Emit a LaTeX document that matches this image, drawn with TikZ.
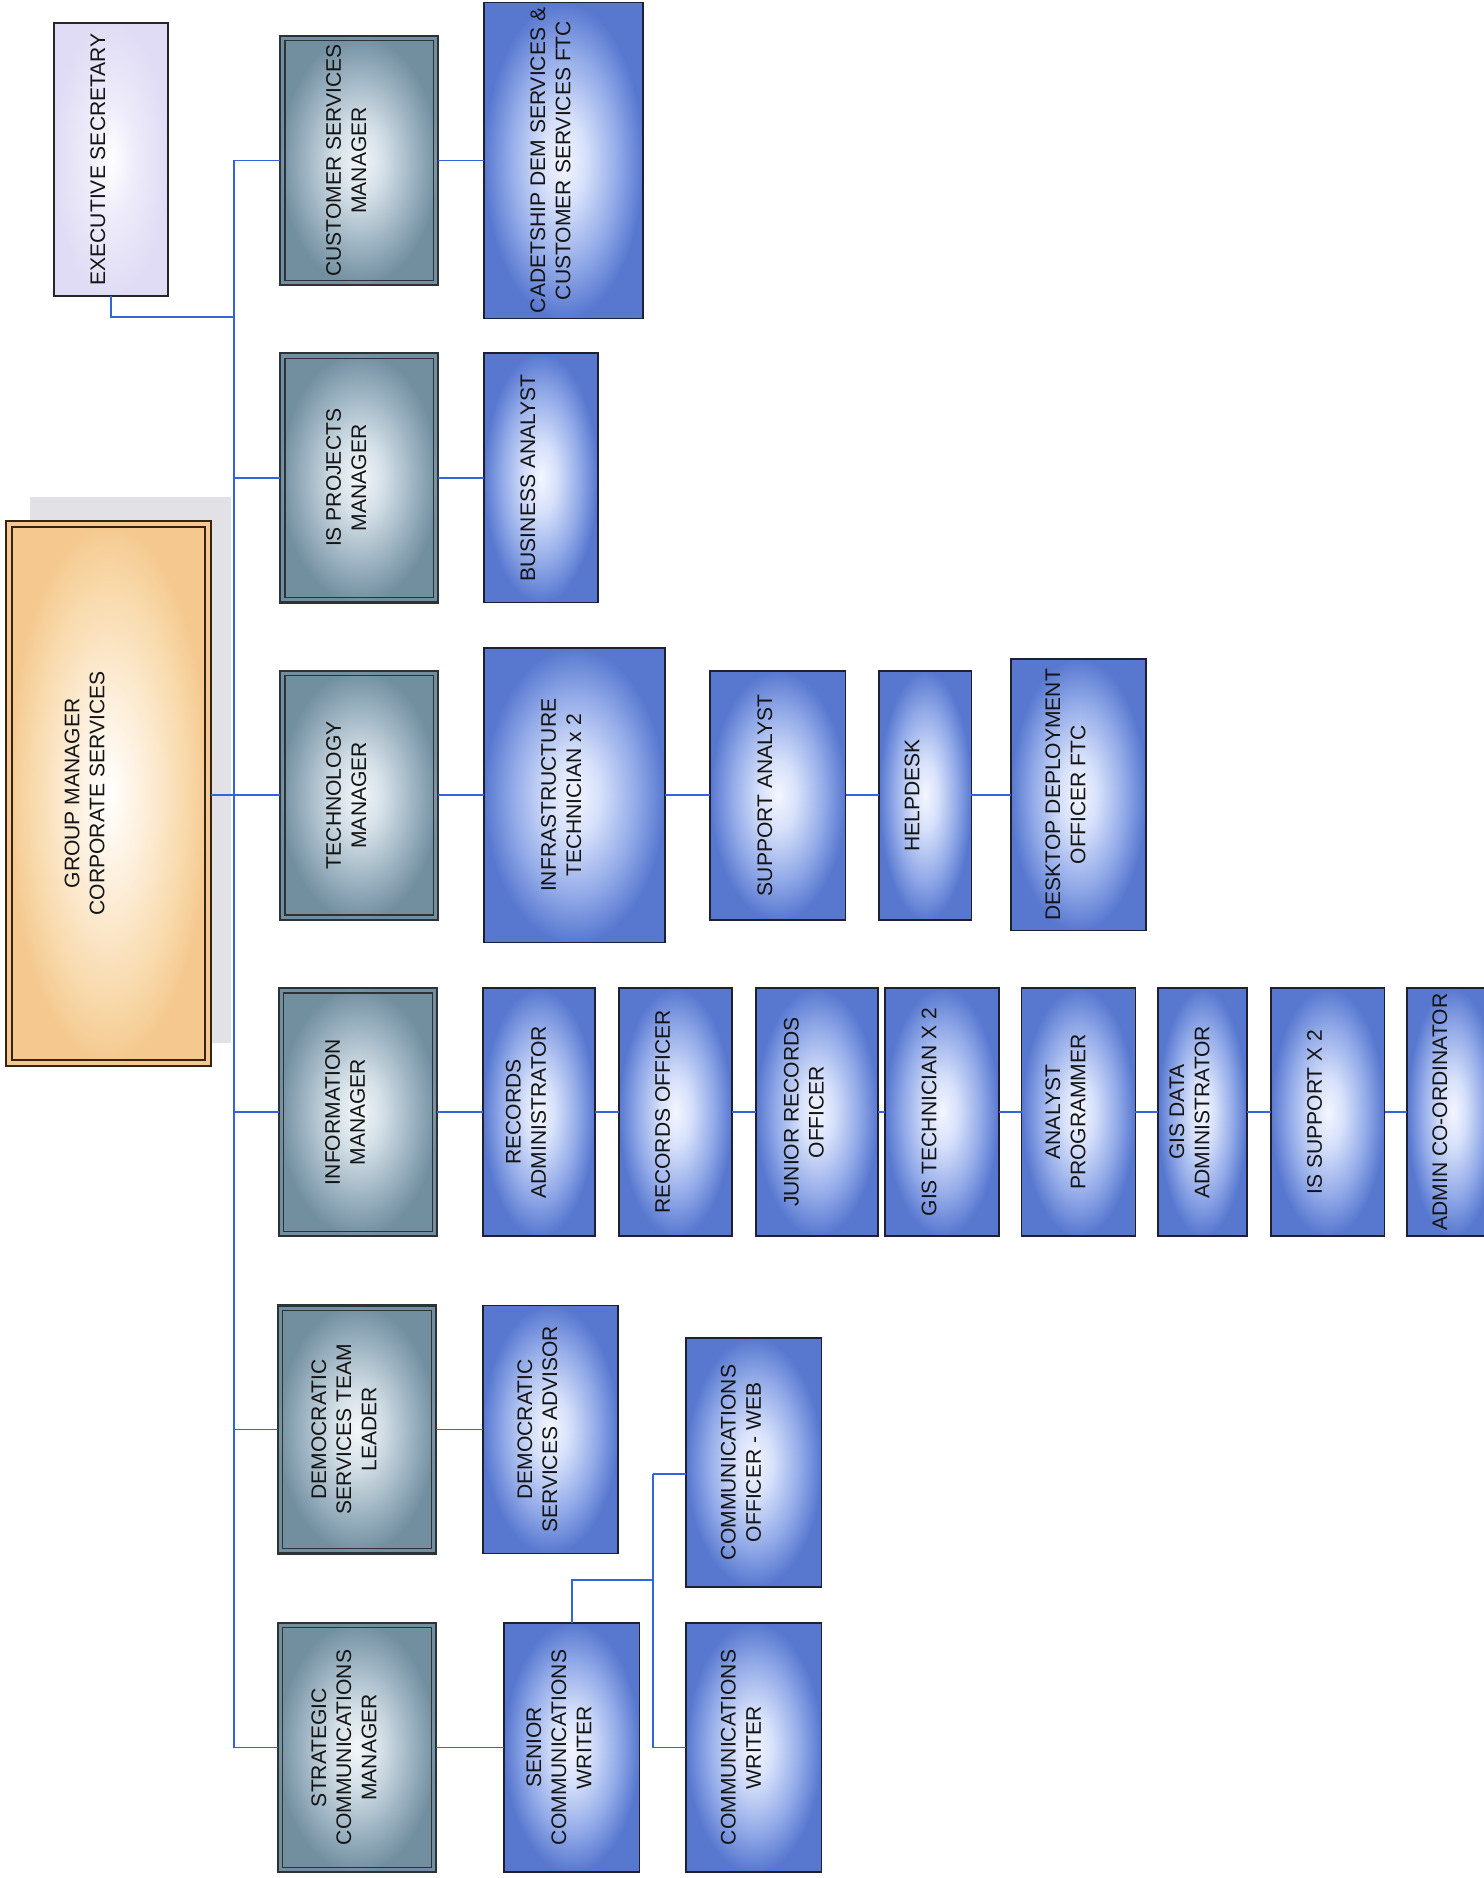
\documentclass[tikz,border=0pt]{standalone}
\usepackage{fontspec}
\setmainfont{Liberation Sans}
\usepackage{graphicx}
\definecolor{bA}{RGB}{244,246,255}
\definecolor{bB}{RGB}{214,224,250}
\definecolor{bC}{RGB}{146,170,232}
\definecolor{bD}{RGB}{88,120,208}
\definecolor{mA}{RGB}{244,248,250}
\definecolor{mB}{RGB}{210,222,230}
\definecolor{mC}{RGB}{152,175,190}
\definecolor{mD}{RGB}{114,143,160}
\definecolor{gA}{RGB}{255,255,255}
\definecolor{gB}{RGB}{253,238,218}
\definecolor{gC}{RGB}{248,217,170}
\definecolor{gD}{RGB}{244,200,142}
\definecolor{eA}{RGB}{255,255,255}
\definecolor{eB}{RGB}{238,236,250}
\definecolor{eD}{RGB}{224,220,245}
\definecolor{edgeDark}{RGB}{30,32,50}
\definecolor{mgrEdge}{RGB}{45,50,55}
\definecolor{gmEdge}{RGB}{55,35,20}
\definecolor{connBlue}{RGB}{50,100,220}
\definecolor{shadowGray}{RGB}{226,226,230}
\pgfdeclareradialshading{bluesh}{\pgfpoint{0bp}{0bp}}{color(0bp)=(bA); color(7bp)=(bB); color(17bp)=(bC); color(25bp)=(bD); color(50bp)=(bD)}
\pgfdeclareradialshading{mgrsh}{\pgfpoint{0bp}{0bp}}{color(0bp)=(mA); color(8bp)=(mB); color(18bp)=(mC); color(25bp)=(mD); color(50bp)=(mD)}
\pgfdeclareradialshading{gmsh}{\pgfpoint{0bp}{0bp}}{color(0bp)=(gA); color(9bp)=(gB); color(19bp)=(gC); color(25bp)=(gD); color(50bp)=(gD)}
\pgfdeclareradialshading{essh}{\pgfpoint{0bp}{0bp}}{color(0bp)=(eA); color(10bp)=(eB); color(25bp)=(eD); color(50bp)=(eD)}
\newcommand\rt[2][18pt]{\rotatebox{90}{\begin{tabular}{@{}c@{}}#2\end{tabular}}\hspace*{#1}}
\newcommand\bx[7]{\node[#6, minimum width={(#4-#2)*1pt}, minimum height={(#5-#3)*1pt}] (#1) at ({(#2+#4)/2},{(#3+#5)/2}) {#7};}
\tikzset{
  box/.style={inner sep=0pt, outer sep=0pt, font=\fontsize{17.6}{21}\selectfont, text=black!92},
  bluebox/.style={box, shade, shading=bluesh, draw=edgeDark, line width=1.4pt},
  mgrbox/.style={box, shade, shading=mgrsh, draw=mgrEdge, line width=1.8pt},
  gmbox/.style={box, shade, shading=gmsh, draw=gmEdge, line width=2pt},
  esbox/.style={box, shade, shading=essh, draw=black!85, line width=1.4pt},
  mgrinner/.style={draw=mgrEdge, line width=1pt},
  gminner/.style={draw=gmEdge, line width=1.4pt},
  conn/.style={draw=connBlue, line width=1.6pt},
}
\begin{document}
\begin{tikzpicture}[x=1pt,y=-1pt]
\useasboundingbox (0,0) rectangle (1239,1568);
\clip (0,0) rectangle (1239,1568);
% shadow of group manager
\fill[shadowGray] (25,415) rectangle (193,871);
% top nodes
\bx{es}{45}{19}{140}{247}{esbox}{\rt{EXECUTIVE SECRETARY}}
\bx{gm}{5}{435}{176}{890}{gmbox}{\rt[36pt]{GROUP MANAGER\\CORPORATE SERVICES}}
% managers
\bx{csm}{234}{30}{366}{238}{mgrbox}{\rt{CUSTOMER SERVICES\\MANAGER}}
\bx{ispm}{234}{295}{366}{503}{mgrbox}{\rt{IS PROJECTS\\MANAGER}}
\bx{tm}{234}{560}{366}{768}{mgrbox}{\rt{TECHNOLOGY\\MANAGER}}
\bx{im}{233}{825}{365}{1032}{mgrbox}{\rt{INFORMATION\\MANAGER}}
\bx{dstl}{232}{1090}{364}{1297}{mgrbox}{\rt{DEMOCRATIC\\SERVICES TEAM\\LEADER}}
\bx{scm}{232}{1355}{364}{1563}{mgrbox}{\rt{STRATEGIC\\COMMUNICATIONS\\MANAGER}}
% staff
\bx{cad}{404}{2}{537}{266}{bluebox}{\rt{CADETSHIP DEM SERVICES \&\\CUSTOMER SERVICES FTC}}
\bx{ba}{404}{295}{499}{503}{bluebox}{\rt{BUSINESS ANALYST}}
\bx{inf}{404}{541}{555}{787}{bluebox}{\rt{INFRASTRUCTURE\\TECHNICIAN x 2}}
\bx{sa}{593}{560}{706}{768}{bluebox}{\rt{SUPPORT ANALYST}}
\bx{hd}{734}{560}{811}{768}{bluebox}{\rt{HELPDESK}}
\bx{dd}{844}{550}{957}{777}{bluebox}{\rt{DESKTOP DEPLOYMENT\\OFFICER FTC}}
\bx{ra}{403}{825}{497}{1032}{bluebox}{\rt{RECORDS\\ADMINISTRATOR}}
\bx{ro}{517}{825}{611}{1032}{bluebox}{\rt{RECORDS OFFICER}}
\bx{jro}{631}{825}{733}{1032}{bluebox}{\rt{JUNIOR RECORDS\\OFFICER}}
\bx{gist}{739}{825}{834}{1032}{bluebox}{\rt{GIS TECHNICIAN X 2}}
\bx{ap}{853}{825}{948}{1032}{bluebox}{\rt{ANALYST\\PROGRAMMER}}
\bx{gda}{967}{825}{1041}{1032}{bluebox}{\rt{GIS DATA\\ADMINISTRATOR}}
\bx{iss}{1061}{825}{1156}{1032}{bluebox}{\rt{IS SUPPORT X 2}}
\bx{adm}{1175}{825}{1251}{1032}{bluebox}{\rt{ADMIN CO-ORDINATOR}}
\bx{dsa}{403}{1090}{516}{1297}{bluebox}{\rt{DEMOCRATIC\\SERVICES ADVISOR}}
\bx{scw}{421}{1355}{534}{1563}{bluebox}{\rt{SENIOR\\COMMUNICATIONS\\WRITER}}
\bx{cow}{573}{1117}{686}{1325}{bluebox}{\rt{COMMUNICATIONS\\OFFICER - WEB}}
\bx{cw}{573}{1355}{686}{1563}{bluebox}{\rt{COMMUNICATIONS\\WRITER}}
% inner borders
\foreach \n in {csm,ispm,tm,im,dstl,scm}
  \draw[mgrinner] ([shift={(4,4)}]\n.north west) rectangle ([shift={(-4,-4)}]\n.south east);
\draw[gminner] ([shift={(5,5)}]gm.north west) rectangle ([shift={(-5,-5)}]gm.south east);
% connectors
\coordinate (busx) at (195,0);
\coordinate (esy) at (0,265);
\coordinate (cx) at (545,1319);
\coordinate (cj) at (545,1231);
\draw[conn] (csm.west) -- (csm.west -| busx) -- (scm.west -| busx) -- (scm.west);
\foreach \n in {ispm,tm,im,dstl}
  \draw[conn] (\n.west) -- (\n.west -| busx);
\draw[conn] (es.south) -- (es.south |- esy) -- (esy -| busx);
\draw[conn] (gm.east |- tm.west) -- (tm.west -| busx);
\draw[conn] (csm.east) -- (cad.west);
\draw[conn] (ispm.east) -- (ba.west);
\draw[conn] (tm.east) -- (inf.west);
\draw[conn] (inf.east |- tm.east) -- (sa.west);
\draw[conn] (sa.east) -- (hd.west);
\draw[conn] (hd.east) -- (dd.west |- hd.east);
\draw[conn] (im.east) -- (ra.west);
\draw[conn] (ra.east) -- (ro.west);
\draw[conn] (ro.east) -- (jro.west);
\draw[conn] (jro.east) -- (gist.west);
\draw[conn] (gist.east) -- (ap.west);
\draw[conn] (ap.east) -- (gda.west);
\draw[conn] (gda.east) -- (iss.west);
\draw[conn] (iss.east) -- (adm.west);
\draw[conn] (dstl.east) -- (dsa.west);
\draw[conn] (scm.east) -- (scw.west);
\draw[conn] (scw.north) -- (scw.north |- cx) -- (cx);
\draw[conn] (cj) -- (cw.west -| cj) -- (cw.west);
\draw[conn] (cj) -- (cj -| cow.west);
\end{tikzpicture}
\end{document}
